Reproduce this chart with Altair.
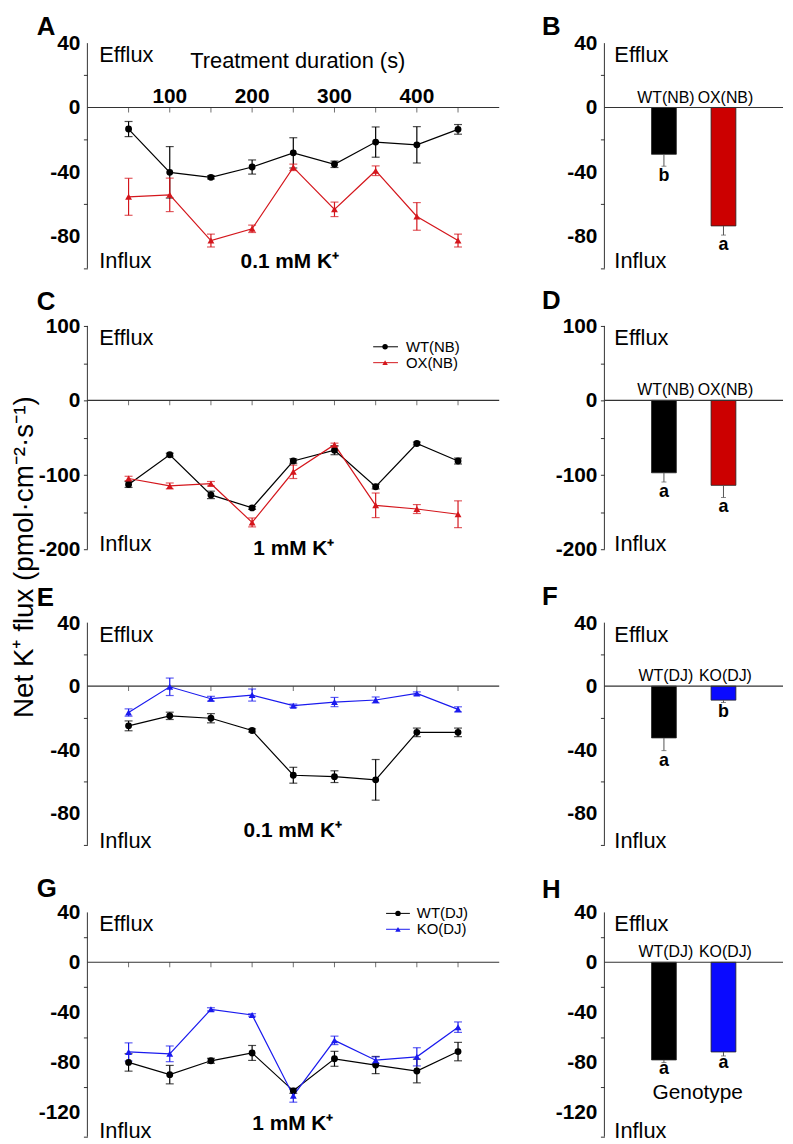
import altair as alt
import pandas as pd

FONT = "Liberation Sans"

# ---------------- data ----------------
time_s = [50, 100, 150, 200, 250, 300, 350, 400, 450]
x_tick_labels = ["100", "200", "300", "400"]
x_tick_values = [100, 200, 300, 400]

nb_series = ["WT(NB)", "OX(NB)"]
dj_series = ["WT(DJ)", "KO(DJ)"]

# Panel A: 0.1 mM K+, NB lines
a_wt = [-13.4, -40.3, -43.4, -37.0, -28.2, -35.3, -21.5, -23.2, -13.6]
a_wt_err = [4.7, 16.0, 1.0, 4.4, 9.4, 2.0, 9.4, 11.3, 3.0]
a_ox = [-55.5, -54.3, -82.7, -75.4, -37.2, -63.3, -39.3, -67.7, -82.7]
a_ox_err = [11.5, 10.4, 4.0, 2.3, 2.0, 4.5, 3.0, 8.6, 4.0]

# Panel C: 1 mM K+, NB lines
c_wt = [-113.0, -73.0, -127.0, -144.5, -81.5, -67.0, -116.0, -58.0, -81.5]
c_wt_err = [4.0, 2.0, 5.0, 2.0, 3.0, 6.0, 3.0, 2.0, 4.0]
c_ox = [-105.0, -115.0, -112.0, -164.0, -96.0, -59.5, -141.0, -146.0, -153.0]
c_ox_err = [3.0, 4.0, 3.0, 6.0, 9.0, 2.0, 16.5, 6.0, 18.0]

# Panel E: 0.1 mM K+, DJ lines
e_wt = [-25.0, -18.7, -20.2, -27.9, -56.1, -57.0, -59.0, -29.1, -29.1]
e_wt_err = [3.1, 2.3, 2.9, 1.0, 5.0, 3.7, 12.8, 2.7, 2.7]
e_ko = [-16.6, -0.4, -7.9, -5.6, -12.3, -10.0, -8.7, -4.6, -14.6]
e_ko_err = [2.3, 5.5, 1.5, 3.8, 1.0, 2.9, 1.9, 1.0, 1.6]

# Panel G: 1 mM K+, DJ lines
g_wt = [-80.4, -90.2, -79.1, -72.8, -103.2, -77.5, -82.5, -87.3, -71.7]
g_wt_err = [7.0, 7.4, 2.0, 6.0, 2.0, 6.0, 6.9, 9.5, 7.4]
g_ko = [-72.0, -73.5, -37.8, -42.3, -107.1, -62.7, -78.6, -75.9, -52.1]
g_ko_err = [7.3, 6.3, 1.3, 1.0, 5.2, 3.4, 2.6, 7.3, 4.2]

# Bar panels (mean, error, significance letter)
b_means = [-29.1, -73.6]
b_errs = [7.4, 5.7]
b_sig = ["b", "a"]
d_means = [-97.3, -114.2]
d_errs = [12.4, 16.3]
d_sig = ["a", "a"]
f_means = [-32.6, -8.8]
f_errs = [8.0, 1.5]
f_sig = ["a", "b"]
h_means = [-78.4, -72.0]
h_errs = [2.1, 3.2]
h_sig = ["a", "a"]

# y tick values / labelled ticks
ticks_40_100 = [40, 20, 0, -20, -40, -60, -80, -100]
labels_40_100 = ["40", "0", "-40", "-80"]
ticks_100_200 = [100, 50, 0, -50, -100, -150, -200]
labels_100_200 = ["100", "0", "-100", "-200"]
ticks_40_140 = [40, 20, 0, -20, -40, -60, -80, -100, -120, -140]
labels_40_140 = ["40", "0", "-40", "-80", "-120"]

# ---------------- styles ----------------
BLACK = "#000000"
RED_LINE = "#d4161c"
BLUE_LINE = "#1a1aee"
RED_BAR = "#cc0000"
BLUE_BAR = "#0a0aff"
AX = "#333333"

LINE_W = 415
BAR_W = 180
ROW_H = [227, 241, 234, 226]
ROW_DOM = [[-100, 40], [-221.33, 100], [-106.25, 40], [-140, 40]]


def txt(s, x, y, size, weight="normal", align="left", baseline="alphabetic", angle=0):
    return alt.Chart(pd.DataFrame({"label": [s]})).mark_text(
        font=FONT, fontSize=size, fontWeight=weight, align=align,
        baseline=baseline, angle=angle, color="#000000"
    ).encode(x=alt.value(x), y=alt.value(y), text="label:N")


def yaxis_layers(ysc, ticks, labels):
    axis = alt.Axis(values=ticks, labels=False, domain=False, grid=False,
                    tickSize=4, tickColor=AX, tickWidth=1, title=None)
    df = pd.DataFrame({"v": [max(ticks)], "v2": [min(ticks)]})
    line = alt.Chart(df).mark_rule(color=AX, strokeWidth=1).encode(
        x=alt.value(0), y=alt.Y("v:Q", scale=ysc, axis=axis, title=None), y2="v2:Q")
    ldf = pd.DataFrame({"s": labels, "v": [float(s) for s in labels]})
    labs = alt.Chart(ldf).mark_text(font=FONT, fontSize=21, fontWeight="bold", align="right",
                                    baseline="middle", dx=-7, dy=1, color="#000000").encode(
        x=alt.value(0), y=alt.Y("v:Q", scale=ysc, title=None), text="s:N")
    return [line, labs]


def zero_line(ysc):
    return alt.Chart(pd.DataFrame({"z": [0]})).mark_rule(color=AX, strokeWidth=1.2).encode(
        x=alt.value(0), x2=alt.value("width"), y=alt.Y("z:Q", scale=ysc, title=None))


def legend_layers(names, colors, shapes, x0, x1, xm, xt, ys):
    out = []
    for n, c, s, y in zip(names, colors, shapes, ys):
        d = pd.DataFrame({"label": [n]})
        out.append(alt.Chart(d).mark_rule(color=c, strokeWidth=1).encode(
            x=alt.value(x0), x2=alt.value(x1), y=alt.value(y)))
        out.append(alt.Chart(d).mark_point(filled=True, shape=s, color=c, size=30, opacity=1).encode(
            x=alt.value(xm), y=alt.value(y)))
        out.append(alt.Chart(d).mark_text(font=FONT, fontSize=15, align="left", baseline="middle",
                                          color="#000000").encode(
            x=alt.value(xt), y=alt.value(y), text="label:N"))
    return out


def line_panel(row, names, means, errs, colors, ticks, labels, letter, letter_y,
               cond, cond_xy, extra=None, xlabels=False, anchor=False):
    ysc = alt.Scale(domain=ROW_DOM[row], nice=False, zero=False)
    xsc = alt.Scale(domain=[0, 500], nice=False, zero=False)
    rows = []
    for n, m, e in zip(names, means, errs):
        for t, v, s in zip(time_s, m, e):
            rows.append({"t": t, "series": n, "mean": v, "err": s})
    df = pd.DataFrame(rows)
    df["lo"] = df["mean"] - df["err"]
    df["hi"] = df["mean"] + df["err"]

    X = alt.X("t:Q", scale=xsc, axis=None, title=None)
    col = alt.Color("series:N", scale=alt.Scale(domain=names, range=colors), legend=None)
    shp = alt.Shape("series:N", scale=alt.Scale(domain=names, range=["circle", "triangle-up"]),
                    legend=None)

    def Y(f):
        return alt.Y(f, type="quantitative", scale=ysc, title=None)

    base = alt.Chart(df)
    layers = yaxis_layers(ysc, ticks, labels) + [zero_line(ysc)]
    tick_df = pd.DataFrame({"t": time_s, "z": [0] * len(time_s)})
    layers.append(alt.Chart(tick_df).mark_tick(orient="vertical", size=5, thickness=1,
                                               yOffset=2.5, color=AX).encode(x=X, y=Y("z")))
    if xlabels:
        lab_df = pd.DataFrame({"t": x_tick_values, "label": x_tick_labels, "z": 0})
        layers.append(alt.Chart(lab_df).mark_text(font=FONT, fontSize=21, fontWeight="bold",
                                                  dy=-5, baseline="alphabetic",
                                                  color="#000000").encode(
            x=X, y=Y("z"), text="label:N"))
    layers += [
        base.mark_rule(strokeWidth=1.2).encode(x=X, y=Y("lo"), y2="hi:Q", color=col),
        base.mark_tick(orient="horizontal", size=8, thickness=1.2).encode(x=X, y=Y("lo"), color=col),
        base.mark_tick(orient="horizontal", size=8, thickness=1.2).encode(x=X, y=Y("hi"), color=col),
        base.mark_line(strokeWidth=1.2).encode(x=X, y=Y("mean"), color=col),
        base.mark_point(filled=True, size=48, opacity=1).encode(x=X, y=Y("mean"), color=col, shape=shp),
    ]
    layers += [
        txt(letter, -51, letter_y, 26, "bold"),
        txt("Efflux", 12, 19, 22),
        txt("Influx", 12, 227, 22),
        txt(cond, cond_xy[0], cond_xy[1], 21, "bold", align="center"),
    ]
    if extra:
        layers += extra
    if anchor:
        layers.append(alt.Chart(pd.DataFrame({"a": [0]})).mark_rule(opacity=0, strokeWidth=0.1).encode(
            x=alt.value(-79), x2=alt.value(-79), y=alt.value(-30), y2=alt.value(-30)))
    return alt.layer(*layers).properties(width=LINE_W, height=ROW_H[row])


def bar_panel(row, cats, means, errs, sig, colors, ticks, labels, letter, letter_y,
              sig_dy=15, extra=None):
    ysc = alt.Scale(domain=ROW_DOM[row], nice=False, zero=False)
    xsc = alt.Scale(type="point", domain=cats, padding=1)
    df = pd.DataFrame({"cat": cats, "mean": means, "err": errs, "sig": sig})
    df["lo"] = df["mean"] - df["err"]
    df["zero"] = 0
    X = alt.X("cat:N", scale=xsc, axis=None, title=None)

    def Y(f):
        return alt.Y(f, type="quantitative", scale=ysc, title=None)

    col = alt.Color("cat:N", scale=alt.Scale(domain=cats, range=colors), legend=None)
    base = alt.Chart(df)
    layers = yaxis_layers(ysc, ticks, labels) + [
        base.mark_bar(size=25, stroke="#222222", strokeWidth=0.8, opacity=1).encode(
            x=X, y=Y("mean"), y2="zero:Q", color=col),
        base.mark_rule(color="#555555", strokeWidth=1).encode(x=X, y=Y("mean"), y2="lo:Q"),
        base.mark_tick(orient="horizontal", size=5, thickness=1, color="#555555").encode(x=X, y=Y("lo")),
        zero_line(ysc),
        base.mark_text(font=FONT, fontSize=18, fontWeight="bold", dy=sig_dy, baseline="alphabetic",
                       color="#000000").encode(x=X, y=Y("lo"), text="sig:N"),
        base.mark_text(font=FONT, fontSize=16, dy=-5, dx=2, baseline="alphabetic",
                       color="#000000").encode(x=X, y=Y("zero"), text="cat:N"),
        txt(letter, -63, letter_y, 26, "bold"),
        txt("Efflux", 10, 19, 22),
        txt("Influx", 10, 227, 22),
    ]
    if extra:
        layers += extra
    return alt.layer(*layers).properties(width=BAR_W, height=ROW_H[row])


ylabel = "Net K\u207a flux (pmol\u00b7cm\u207b\u00b2\u00b7s\u207b\u00b9)"

pA = line_panel(0, nb_series, [a_wt, a_ox], [a_wt_err, a_ox_err], [BLACK, RED_LINE],
                ticks_40_100, labels_40_100, "A", -8, "0.1 mM K\u207a", (204, 227),
                extra=[txt("Treatment duration (s)", 212, 25, 22, align="center")],
                xlabels=True, anchor=True)
pB = bar_panel(0, nb_series, b_means, b_errs, b_sig, [BLACK, RED_BAR],
               ticks_40_100, labels_40_100, "B", -8)

pC = line_panel(1, nb_series, [c_wt, c_ox], [c_wt_err, c_ox_err], [BLACK, RED_LINE],
                ticks_100_200, labels_100_200, "C", -16, "1 mM K\u207a", (208, 231),
                extra=legend_layers(nb_series, [BLACK, RED_LINE], ["circle", "triangle-up"],
                                    288, 313, 300, 321, [21, 37])
                + [txt(ylabel, -63, 233, 28, align="center", baseline="middle", angle=270)])
pD = bar_panel(1, nb_series, d_means, d_errs, d_sig, [BLACK, RED_BAR],
               ticks_100_200, labels_100_200, "D", -17)

pE = line_panel(2, dj_series, [e_wt, e_ko], [e_wt_err, e_ko_err], [BLACK, BLUE_LINE],
                ticks_40_100, labels_40_100, "E", -17, "0.1 mM K\u207a", (207, 216))
pF = bar_panel(2, dj_series, f_means, f_errs, f_sig, [BLACK, BLUE_BAR],
               ticks_40_100, labels_40_100, "F", -18)

pG = line_panel(3, dj_series, [g_wt, g_ko], [g_wt_err, g_ko_err], [BLACK, BLUE_LINE],
                ticks_40_140, labels_40_140, "G", -16, "1 mM K\u207a", (207, 219),
                extra=legend_layers(dj_series, [BLACK, BLUE_LINE], ["circle", "triangle-up"],
                                    301, 325, 313, 332, [1, 17]))
pH = bar_panel(3, dj_series, h_means, h_errs, h_sig, [BLACK, BLUE_BAR],
               ticks_40_140, labels_40_140, "H", -15, sig_dy=12,
               extra=[txt("Genotype", 94, 188, 21, align="center")])

chart = alt.concat(
    pA, pB, pC, pD, pE, pF, pG, pH,
    columns=2,
    spacing={"row": 58, "column": 106},
    bounds="flush",
    align="each",
).resolve_scale(color="independent", shape="independent").properties(
    padding=0, background="white").configure_view(stroke="transparent")

chart.save("out.html", embed_options={"renderer": "svg", "actions": False})
